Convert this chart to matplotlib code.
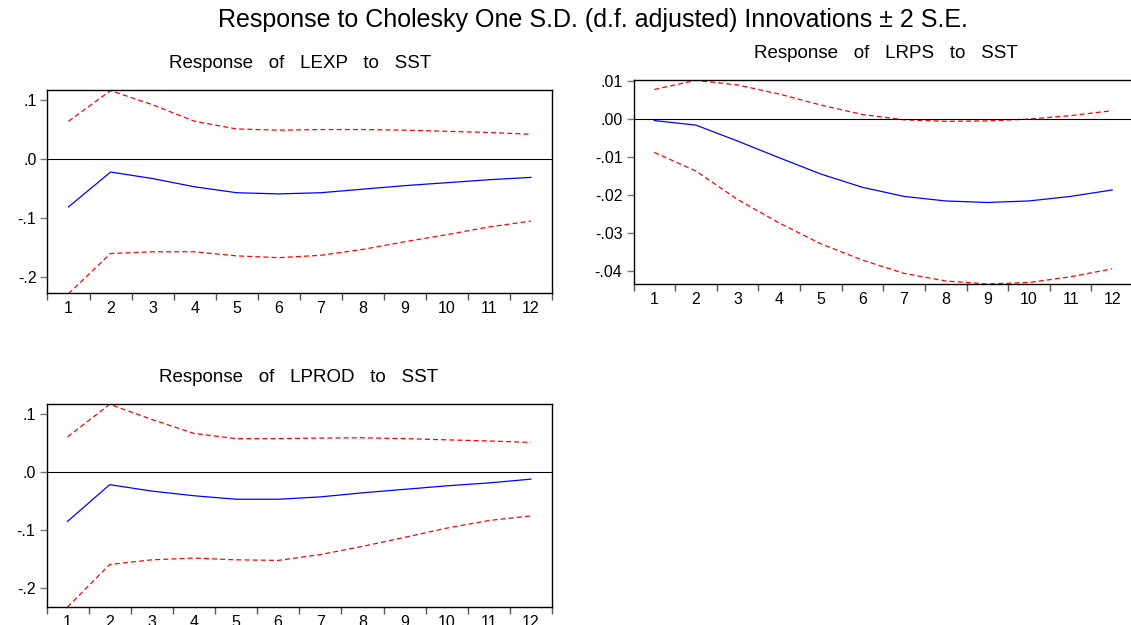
import matplotlib
matplotlib.use("Agg")
import matplotlib.pyplot as plt
from matplotlib.ticker import FixedLocator, FixedFormatter, NullFormatter

plt.rcParams['font.family'] = ['Liberation Sans', 'DejaVu Sans']

periods = list(range(1, 13))

lexp_resp = [-0.081, -0.022, -0.033, -0.047, -0.057, -0.059, -0.057, -0.051, -0.045, -0.040, -0.035, -0.031]
lexp_upper = [0.064, 0.116, 0.092, 0.064, 0.051, 0.049, 0.050, 0.050, 0.049, 0.047, 0.045, 0.042]
lexp_lower = [-0.228, -0.160, -0.157, -0.157, -0.164, -0.167, -0.163, -0.153, -0.140, -0.128, -0.115, -0.105]

lrps_resp = [-0.0004, -0.0016, -0.0058, -0.0102, -0.0145, -0.0180, -0.0204, -0.0216, -0.0220, -0.0216, -0.0204, -0.0187]
lrps_upper = [0.0078, 0.0102, 0.0090, 0.0066, 0.0037, 0.0012, -0.0002, -0.0006, -0.0005, 0.0000, 0.0009, 0.0022]
lrps_lower = [-0.0088, -0.0137, -0.0212, -0.0274, -0.0329, -0.0372, -0.0407, -0.0427, -0.0435, -0.0431, -0.0416, -0.0395]

lprod_resp = [-0.085, -0.022, -0.033, -0.041, -0.047, -0.047, -0.043, -0.036, -0.030, -0.024, -0.019, -0.0125]
lprod_upper = [0.060, 0.116, 0.090, 0.066, 0.057, 0.057, 0.058, 0.0585, 0.057, 0.055, 0.053, 0.0505]
lprod_lower = [-0.232, -0.159, -0.151, -0.148, -0.151, -0.152, -0.142, -0.128, -0.1125, -0.0966, -0.0835, -0.0756]

ytick_a = [0.1, 0.0, -0.1, -0.2]
ylab_a = ['.1', '.0', '-.1', '-.2']
ytick_b = [0.01, 0.0, -0.01, -0.02, -0.03, -0.04]
ylab_b = ['.01', '.00', '-.01', '-.02', '-.03', '-.04']

W, H = 1131, 625
fig = plt.figure(figsize=(W / 100, H / 100), dpi=100)


def make_ax(left, right, top, bottom):
    return fig.add_axes([left / W, 1 - bottom / H, (right - left) / W, (bottom - top) / H])


def draw(ax, resp, up, lo, yt, yl, ylim):
    ax.plot(periods, up, color='#ff0000', lw=0.9, dashes=(4, 2.5))
    ax.plot(periods, lo, color='#ff0000', lw=0.9, dashes=(4, 2.5))
    ax.plot(periods, resp, color='#0000ff', lw=0.9)
    ax.axhline(0, color='black', lw=0.8)
    ax.set_xlim(0.5, 12.5)
    ax.set_ylim(*ylim)
    ax.yaxis.set_major_locator(FixedLocator(yt))
    ax.yaxis.set_major_formatter(FixedFormatter(yl))
    ax.xaxis.set_major_locator(FixedLocator([i + 0.5 for i in range(0, 13)]))
    ax.xaxis.set_major_formatter(NullFormatter())
    ax.xaxis.set_minor_locator(FixedLocator(periods))
    ax.xaxis.set_minor_formatter(FixedFormatter([str(p) for p in periods]))
    ax.tick_params(axis='x', which='major', length=5, width=1.0, color='#555555', direction='out')
    ax.tick_params(axis='x', which='minor', length=0, labelsize=11.5, pad=6)
    ax.tick_params(axis='y', which='major', length=5, width=1.0, color='#777777', direction='out',
                   labelsize=11.5, pad=3)
    for s in ax.spines.values():
        s.set_linewidth(1.0)
        s.set_color('black')


ax1 = make_ax(47.5, 552, 90, 292.5)
draw(ax1, lexp_resp, lexp_upper, lexp_lower, ytick_a, ylab_a, (-0.226, 0.117))

ax2 = make_ax(633.5, 1133, 80, 284)
draw(ax2, lrps_resp, lrps_upper, lrps_lower, ytick_b, ylab_b, (-0.0435, 0.0103))

ax3 = make_ax(46.5, 552, 404, 607)
draw(ax3, lprod_resp, lprod_upper, lprod_lower, ytick_a, ylab_a, (-0.232, 0.1165))

fig.text(593 / W, 1 - 20 / H, 'Response to Cholesky One S.D. (d.f. adjusted) Innovations \u00b1 2 S.E.',
         ha='center', va='center', fontsize=18)
fig.text(300 / W, 1 - 63 / H, 'Response   of   LEXP   to   SST', ha='center', va='center', fontsize=13.5)
fig.text(886 / W, 1 - 53 / H, 'Response   of   LRPS   to   SST', ha='center', va='center', fontsize=13.5)
fig.text(299 / W, 1 - 378 / H, 'Response   of   LPROD   to   SST', ha='center', va='center', fontsize=13.5)

fig.savefig('out.png', dpi=100)
